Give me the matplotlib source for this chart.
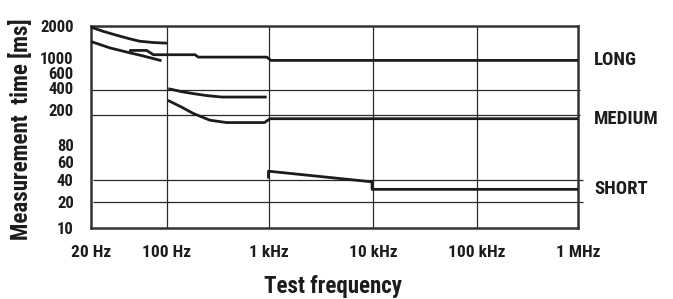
import numpy as np
import matplotlib
matplotlib.use("Agg")
import matplotlib.pyplot as plt
from matplotlib import font_manager
from matplotlib.transforms import ScaledTranslation
from matplotlib.ticker import NullLocator

# ---------------- data ----------------
x_ticks = [20, 100, 1e3, 1e4, 1e5, 1e6]
x_labels = ["20 Hz", "100 Hz", "1 kHz", "10 kHz", "100 kHz", "1 MHz"]
y_ticks = [10, 20, 40, 60, 80, 200, 400, 600, 1000, 2000]
y_labels = ["10", "20", "40", "60", "80", "200", "400", "600", "1000", "2000"]
h_grid = [400, 200, 40, 20]
v_grid = [100, 1e3, 1e4, 1e5]

long_a_f = [20, 26, 35, 45, 56, 75, 100]
long_a_ms = [1950, 1780, 1630, 1520, 1440, 1400, 1380]
long_b_f = [20, 30, 46, 60, 72, 89]
long_b_ms = [1430, 1245, 1118, 1050, 1000, 910]
long_f = [46, 46, 65, 75, 189, 203, 960, 1057, 1e6]
long_ms = [1107, 1181, 1181, 1076, 1076, 1022, 1022, 920, 920]

med_a_f = [103, 140, 182, 250, 346, 960]
med_a_ms = [415, 385, 365, 345, 332, 332]
med_f = [102, 140, 182, 265, 387, 913, 1034, 1e6]
med_ms = [303, 250, 210, 172, 160, 160, 180, 180]

short_f = [1000, 1000, 9800, 9800, 1e6]
short_ms = [41, 48.5, 37.3, 29.5, 29.5]

mode_names = ["LONG", "MEDIUM", "SHORT"]

# ---------------- scales (chart's non-uniform axes) ----------------
_xl = np.log10(x_ticks)
_xp = np.array([0, 76, 177.5, 282, 386, 487.0])
_yl = np.log10(y_ticks)
_yp = np.array([0, 26.3, 48.5, 66.3, 83, 113, 138, 156.3, 170.3, 202.5])


def _fx(v):
    return np.interp(np.log10(np.clip(v, 1e-9, None)), _xl, _xp, left=-1e3, right=1e3)


def _ix(p):
    return 10 ** np.interp(p, _xp, _xl)


def _fy(v):
    return np.interp(np.log10(np.clip(v, 1e-9, None)), _yl, _yp, left=-1e3, right=1e3)


def _iy(p):
    return 10 ** np.interp(p, _yp, _yl)


# pick a narrow bold font if one is installed
_names = {f.name for f in font_manager.fontManager.ttflist}
_cands = ["Liberation Sans Narrow", "DejaVu Sans Condensed", "Roboto Condensed",
          "Open Sans Condensed", "Noto Sans Condensed", "Roboto", "Liberation Sans"]
_main = next((c for c in _cands if c in _names), "DejaVu Sans")
FONT = [_main, "DejaVu Sans"]
plt.rcParams["font.family"] = FONT
plt.rcParams["font.weight"] = "bold"

ink = "#1c1c1c"
grid_c = "#2a2a2a"

fig = plt.figure(figsize=(6.73, 2.99), dpi=100)
ax = fig.add_axes([91 / 673, 1 - 228 / 299, (578 - 91) / 673, (228 - 26) / 299])
ax.set_xscale("function", functions=(_fx, _ix))
ax.set_yscale("function", functions=(_fy, _iy))
ax.set_xlim(20, 1e6)
ax.set_ylim(10, 2000)

# grid
ax.vlines(v_grid, 10, 2000, colors=grid_c, lw=0.9, zorder=1)
ytr = ax.get_yaxis_transform()
ax.hlines(h_grid[:2], 0, 1.004, colors=grid_c, lw=0.9, transform=ytr, clip_on=False, zorder=1)
ax.hlines(h_grid[2:], 0.004, 1.011, colors=grid_c, lw=0.9, transform=ytr, clip_on=False, zorder=1)

kw = dict(color=ink, lw=2.0, solid_joinstyle="round", solid_capstyle="butt", zorder=3)
for f, m in [(long_a_f, long_a_ms), (long_b_f, long_b_ms), (long_f, long_ms),
             (med_a_f, med_a_ms), (med_f, med_ms), (short_f, short_ms)]:
    ax.plot(f, m, **kw)

ax.set_xticks(x_ticks)
ax.set_xticklabels(x_labels)
ax.set_yticks(y_ticks)
ax.set_yticklabels(y_labels)
ax.xaxis.set_minor_locator(NullLocator())
ax.yaxis.set_minor_locator(NullLocator())
ax.tick_params(axis="x", length=0, labelsize=12.5, colors=ink, pad=12)
ax.tick_params(axis="y", length=0, labelsize=12, colors=ink, pad=12.5)
for lab in ax.get_xticklabels() + ax.get_yticklabels():
    lab.set_fontweight("bold")
for lab in ax.get_yticklabels():
    t = lab.get_text()
    dy = {"200": 5, "400": 2, "1000": 0.5, "600": -0.5}.get(t, 0)
    if dy:
        lab.set_transform(lab.get_transform() + ScaledTranslation(0, dy / 100, fig.dpi_scale_trans))

for s in ax.spines.values():
    s.set_linewidth(1.8)
    s.set_color("#333333")

for name, yv in zip(mode_names, [long_ms[-1], med_ms[-1], short_ms[-1]]):
    ax.annotate(name, xy=(1.0, yv), xycoords=ytr, xytext=(11.5, 0), textcoords="offset points",
                ha="left", va="center", fontsize=13.5, fontweight="bold", color=ink)

fig.text(333 / 673, 1 - 287 / 299, "Test frequency", ha="center", va="center",
         fontsize=16.5, fontweight="bold", color=ink)
fig.text(21.5 / 673, 1 - 129 / 299, "Measurement  time [ms]", ha="center", va="center",
         rotation=90, fontsize=16.5, fontweight="bold", color=ink)

fig.savefig("out.png", dpi=100)
